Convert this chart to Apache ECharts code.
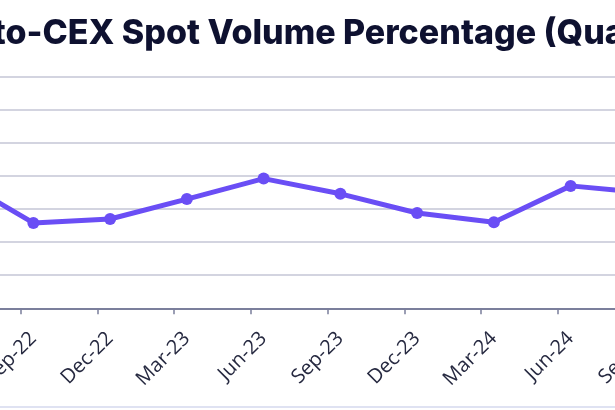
<!DOCTYPE html>
<html>
<head>
<meta charset="utf-8">
<style>
  html, body { margin: 0; padding: 0; background: #ffffff; }
  #chart { width: 615px; height: 410px; }
</style>
<script src="https://cdn.jsdelivr.net/npm/echarts@6/dist/echarts.min.js"></script>
</head>
<body>
<div id="chart"></div>
<script>
var titleText = 'DEX-to-CEX Spot Volume Percentage (Quarterly)';
var quarters = ['Jun-22', 'Sep-22', 'Dec-22', 'Mar-23', 'Jun-23', 'Sep-23', 'Dec-23', 'Mar-24', 'Jun-24', 'Sep-24'];
var dexShare = [19.7, 12.9, 13.5, 16.5, 19.6, 17.3, 14.4, 13.0, 18.5, 17.4];
var yTicks = [0, 5, 10, 15, 20, 25, 30, 35];

(function() {
  var ink = '#0e1130';
  var label = '#262940';
  var purple = '#6a4ef5';
  var rule = '#d3d4e0';
  var axis = '#7b7f9c';

  var chart = echarts.init(document.getElementById('chart'), null, { renderer: 'canvas' });
  chart.setOption({
    animation: false,
    backgroundColor: '#ffffff',
    title: {
      text: titleText,
      left: -98,
      top: 12,
      textStyle: { color: ink, fontFamily: 'Inter', fontWeight: 800, fontSize: 34 }
    },
    grid: [
      { left: -43.4, right: -32.4, top: 76.7, bottom: 101.7, outerBoundsMode: 'none', containLabel: false },
      { left: -56.1, right: -19.7, top: 76.7, bottom: 101.7, outerBoundsMode: 'none', containLabel: false }
    ],
    xAxis: [
      {
        type: 'category', gridIndex: 0, data: quarters, boundaryGap: false,
        axisLine: { lineStyle: { color: axis, width: 2 } },
        axisTick: { show: false },
        axisLabel: { rotate: 45, margin: 27, color: label, fontFamily: 'Open Sans', fontSize: 20, interval: 0, hideOverlap: false }
      },
      {
        type: 'category', gridIndex: 1, data: quarters, boundaryGap: false,
        axisLine: { show: false },
        axisTick: { show: true, length: 6, lineStyle: { color: axis, width: 1.5 }, interval: 0 },
        axisLabel: { show: false }
      }
    ],
    yAxis: [
      {
        type: 'value', gridIndex: 0, min: yTicks[0], max: yTicks[yTicks.length - 1], interval: 5,
        axisLabel: { show: false }, axisLine: { show: false }, axisTick: { show: false },
        splitLine: { lineStyle: { color: rule, width: 2 } }
      },
      {
        type: 'value', gridIndex: 1, min: yTicks[0], max: yTicks[yTicks.length - 1], interval: 5,
        show: false, splitLine: { show: false }
      }
    ],
    graphic: [
      { type: 'rect', left: 0, top: 406, shape: { width: 615, height: 2 }, style: { fill: '#dfe2f2' } }
    ],
    series: [{
      type: 'line',
      xAxisIndex: 0,
      yAxisIndex: 0,
      data: dexShare,
      symbol: 'circle',
      symbolSize: 12,
      itemStyle: { color: purple },
      lineStyle: { color: purple, width: 5 }
    }]
  });
  window.addEventListener('resize', function() { chart.resize(); });
})();
</script>
</body>
</html>
